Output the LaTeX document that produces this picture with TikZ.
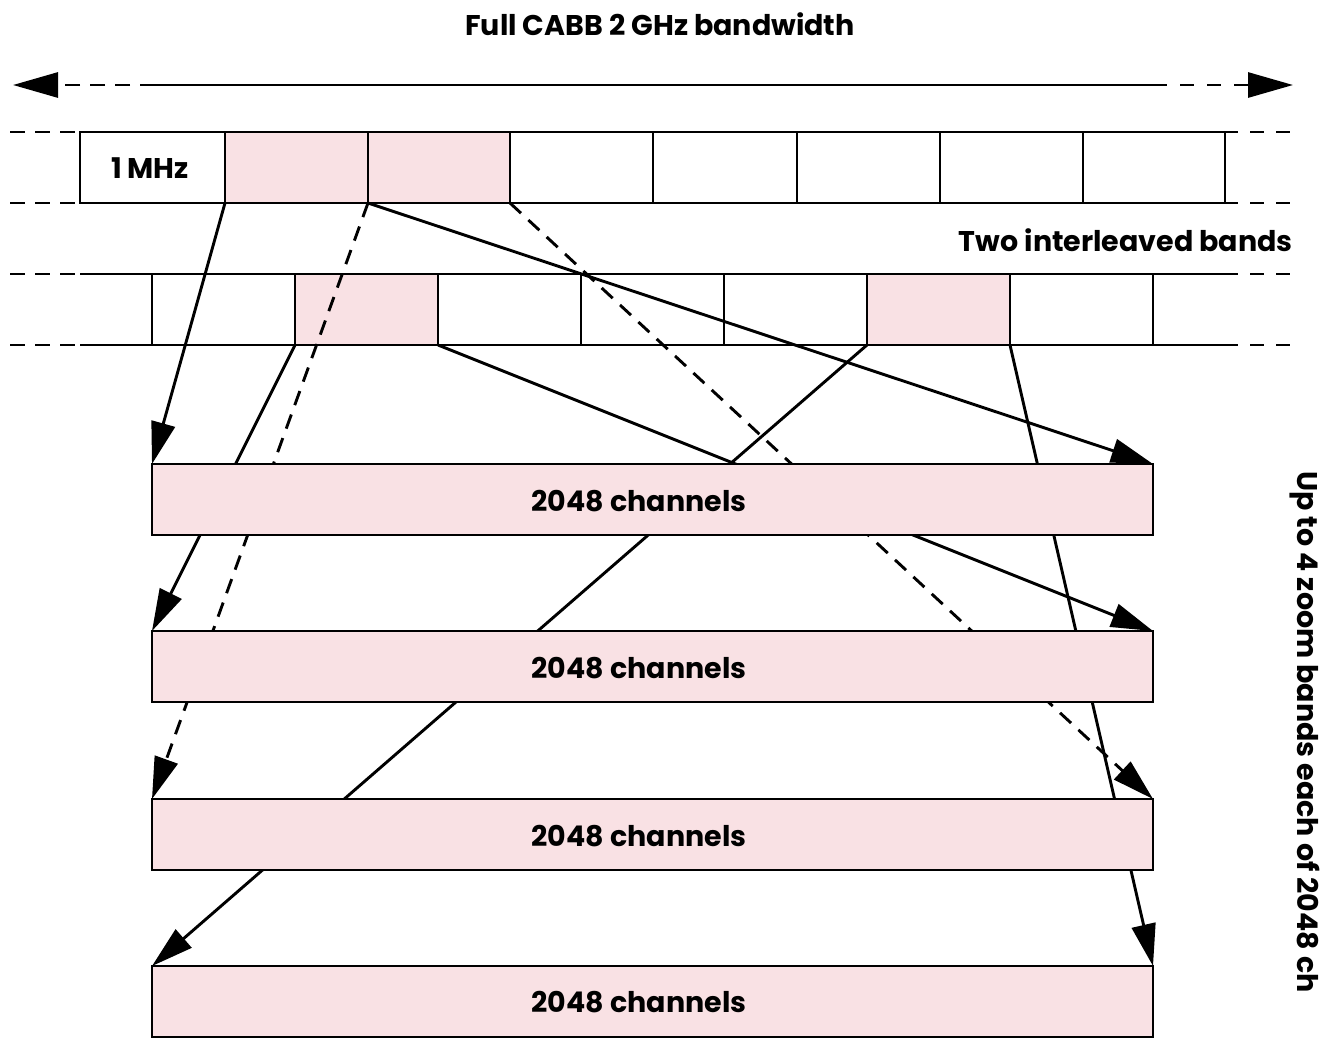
\documentclass[tikz,border=0pt]{standalone}
\usepackage{fontspec}
\setmainfont{Poppins}
\usetikzlibrary{arrows.meta}
\definecolor{pinkfill}{RGB}{249,225,228}
\begin{document}
\begin{tikzpicture}[x=1pt,y=-1pt,
  ln/.style={line width=2.9pt},
  dsh/.style={line width=2.9pt, dash pattern=on 15pt off 10pt},
  tip/.style={-{Triangle[length=42pt,width=24pt]}},
  bigtip/.style={-{Triangle[length=45pt,width=25pt]}},
  lbl/.style={font=\bfseries\fontsize{28.5}{28.5}\selectfont, inner sep=0pt},
  cellw/.style={draw, line width=2.9pt, fill=white, anchor=north west, inner sep=0pt, outer sep=0pt, minimum height=71pt},
  cellp/.style={cellw, fill=pinkfill},
  zbox/.style={draw, line width=2.9pt, fill=pinkfill, anchor=north west, inner sep=0pt, outer sep=0pt, minimum width=1001pt, minimum height=71pt}
]
\useasboundingbox (0,0) rectangle (1326,1037);

% title and top arrow
\node[lbl] (title) at (660,24) {Full CABB 2 GHz bandwidth};
\coordinate (L) at (13,85);
\coordinate (R) at (1293,85);
\coordinate (L1) at (130,85);
\coordinate (L2) at (140,85);
\coordinate (R2) at (1167,85);
\coordinate (R1) at (1180,85);
\draw[dsh,bigtip] (L1) -- (L);
\draw[ln] (L2) -- (R2);
\draw[dsh,bigtip,dash pattern=on 14pt off 13pt] (R1) -- (R);

% row 1
\node[cellw, minimum width=145pt] (r1c1) at (80,132) {};
\node[cellp, minimum width=143pt] (r1c2) at (225,132) {};
\node[cellp, minimum width=142pt] (r1c3) at (368,132) {};
\node[cellw, minimum width=143pt] (r1c4) at (510,132) {};
\node[cellw, minimum width=144pt] (r1c5) at (653,132) {};
\node[cellw, minimum width=143pt] (r1c6) at (797,132) {};
\node[cellw, minimum width=143pt] (r1c7) at (940,132) {};
\node[cellw, minimum width=142pt] (r1c8) at (1083,132) {};
\node[lbl] (mhz) at (150,168) {1 MHz};
\coordinate (r1tl) at (10,132);
\coordinate (r1bl) at (10,203);
\coordinate (r1te) at (1238,132);
\coordinate (r1be) at (1238,203);
\coordinate (r1tr) at (1250,132);
\coordinate (r1br) at (1250,203);
\coordinate (r1tz) at (1292,132);
\coordinate (r1bz) at (1292,203);
\draw[dsh] (r1tl) -- (r1c1.north west);
\draw[dsh] (r1bl) -- (r1c1.south west);
\draw[ln] (r1c8.north east) -- (r1te);
\draw[ln] (r1c8.south east) -- (r1be);
\draw[dsh,dash pattern=on 14pt off 12pt] (r1tr) -- (r1tz);
\draw[dsh,dash pattern=on 14pt off 12pt] (r1br) -- (r1bz);

\node[lbl, anchor=east] (two) at (1293,240) {Two interleaved bands};

% row 2
\node[cellw, minimum width=143pt] (r2c1) at (152,274) {};
\node[cellp, minimum width=143pt] (r2c2) at (295,274) {};
\node[cellw, minimum width=143pt] (r2c3) at (438,274) {};
\node[cellw, minimum width=143pt] (r2c4) at (581,274) {};
\node[cellw, minimum width=143pt] (r2c5) at (724,274) {};
\node[cellp, minimum width=143pt] (r2c6) at (867,274) {};
\node[cellw, minimum width=143pt] (r2c7) at (1010,274) {};
\coordinate (r2tl) at (10,274);
\coordinate (r2bl) at (10,345);
\coordinate (r2ts) at (80,274);
\coordinate (r2bs) at (80,345);
\coordinate (r2te) at (1238,274);
\coordinate (r2be) at (1238,345);
\coordinate (r2tr) at (1250,274);
\coordinate (r2br) at (1250,345);
\coordinate (r2tz) at (1292,274);
\coordinate (r2bz) at (1292,345);
\draw[dsh] (r2tl) -- (r2ts);
\draw[dsh] (r2bl) -- (r2bs);
\draw[ln] (r2ts) -- (r2c1.north west);
\draw[ln] (r2bs) -- (r2c1.south west);
\draw[ln] (r2c7.north east) -- (r2te);
\draw[ln] (r2c7.south east) -- (r2be);
\draw[dsh,dash pattern=on 14pt off 12pt] (r2tr) -- (r2tz);
\draw[dsh,dash pattern=on 14pt off 12pt] (r2br) -- (r2bz);

% zoom boxes (positions)
\coordinate (p1) at (152,464);
\coordinate (p2) at (152,631);
\coordinate (p3) at (152,799);
\coordinate (p4) at (152,966);
\path (p1) node[zbox, draw=none, fill=none] (b1) {}
      (p2) node[zbox, draw=none, fill=none] (b2) {}
      (p3) node[zbox, draw=none, fill=none] (b3) {}
      (p4) node[zbox, draw=none, fill=none] (b4) {};

% connectors
\draw[ln,tip] (r1c2.south west) -- (b1.north west);
\draw[ln,tip] (r1c3.south west) -- (b1.north east);
\draw[dsh,tip] (r1c3.south west) -- (b3.north west);
\draw[dsh,tip] (r1c3.south east) -- (b3.north east);
\draw[ln,tip] (r2c2.south west) -- (b2.north west);
\draw[ln,tip] (r2c2.south east) -- (b2.north east);
\draw[ln,tip] (r2c6.south west) -- (b4.north west);
\draw[ln,tip] (r2c6.south east) -- (b4.north east);

% boxes drawn on top
\foreach \b in {b1,b2,b3,b4}{
  \draw[line width=2.9pt, fill=pinkfill] (\b.north west) rectangle (\b.south east);
}
\node[lbl] (t1) at (639,501) {2048 channels};
\node[lbl] (t2) at (639,668) {2048 channels};
\node[lbl] (t3) at (639,836) {2048 channels};
\node[lbl] (t4) at (639,1002) {2048 channels};

\node[lbl, rotate=-90] (side) at (1305,732) {Up to 4 zoom bands each of 2048 ch};
\end{tikzpicture}
\end{document}
